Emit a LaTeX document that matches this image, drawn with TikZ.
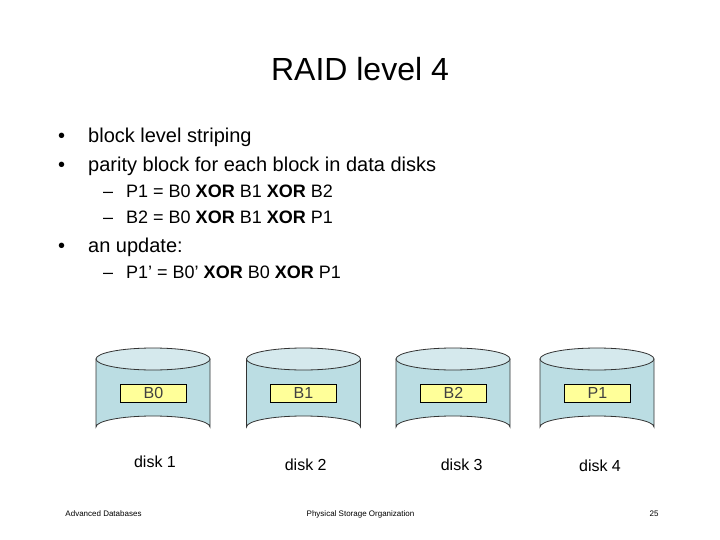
\documentclass[tikz,border=0pt]{standalone}
\usepackage{fontspec}
\setmainfont{Liberation Sans}
\definecolor{disktop}{HTML}{D5E9ED}
\definecolor{diskside}{HTML}{BBDDE3}
\definecolor{blockfill}{HTML}{FFFF99}
\tikzset{
  titletext/.style={anchor=base,inner sep=0pt,font=\fontsize{32}{36}\selectfont},
  lone/.style={anchor=base west,inner sep=0pt,font=\fontsize{20}{24}\selectfont},
  ltwo/.style={anchor=base west,inner sep=0pt,font=\fontsize{18}{22}\selectfont},
  foot/.style={anchor=base,inner sep=0pt,font=\fontsize{8}{10}\selectfont},
  blockbox/.style={draw=black,fill=blockfill,line width=0.8pt,minimum width=66.4pt,minimum height=18pt,inner sep=0pt,font=\fontsize{16}{18}\selectfont,text=black!75},
  disklabel/.style={anchor=base,inner sep=0pt,font=\fontsize{16}{18}\selectfont},
  diskbody/.style={draw=black!80,fill=diskside,line width=0.8pt},
  disklid/.style={draw=black!80,fill=disktop,line width=0.8pt}
}
\newcommand{\diskshape}[1]{%
  \draw[diskbody] (#1-57,359) -- (#1-57,427) arc[start angle=180,end angle=360,x radius=57,y radius=11] -- (#1+57,359) -- cycle;
  \draw[disklid] (#1,359) ellipse[x radius=57,y radius=11];
}
\begin{document}
\begin{tikzpicture}[x=1pt,y=-1pt]
\useasboundingbox (0,0) rectangle (720,540);
\node[titletext] (title) at (360,81) {RAID level 4};
\node[lone] (bA) at (58,143) {•};
\node[lone] (tA) at (88,143) {block level striping};
\node[lone] (bB) at (58,172) {•};
\node[lone] (tB) at (88,172) {parity block for each block in data disks};
\node[ltwo] (dA) at (103,198) {–};
\node[ltwo] (sA) at (126,198) {P1 = B0 \textbf{XOR} B1 \textbf{XOR} B2};
\node[ltwo] (dB) at (103,224) {–};
\node[ltwo] (sB) at (126,224) {B2 = B0 \textbf{XOR} B1 \textbf{XOR} P1};
\node[lone] (bC) at (58,252) {•};
\node[lone] (tC) at (88,252) {an update:};
\node[ltwo] (dC) at (103,278) {–};
\node[ltwo] (sC) at (126,278) {P1’ = B0’ \textbf{XOR} B0 \textbf{XOR} P1};
\diskshape{153}
\diskshape{303.5}
\diskshape{453}
\diskshape{597}
\node[blockbox] (b0) at (153.5,393.3) {B0};
\node[blockbox] (b1) at (303.5,393.3) {B1};
\node[blockbox] (b2) at (453.5,393.3) {B2};
\node[blockbox] (p1) at (597.5,393.3) {P1};
\node[disklabel] (l1) at (155,467) {disk 1};
\node[disklabel] (l2) at (305.7,470) {disk 2};
\node[disklabel] (l3) at (461.7,470) {disk 3};
\node[disklabel] (l4) at (600,471) {disk 4};
\node[foot] (f1) at (103.5,516) {Advanced Databases};
\node[foot] (f2) at (360.5,516) {Physical Storage Organization};
\node[foot] (f3) at (654,516) {25};
\end{tikzpicture}
\end{document}
